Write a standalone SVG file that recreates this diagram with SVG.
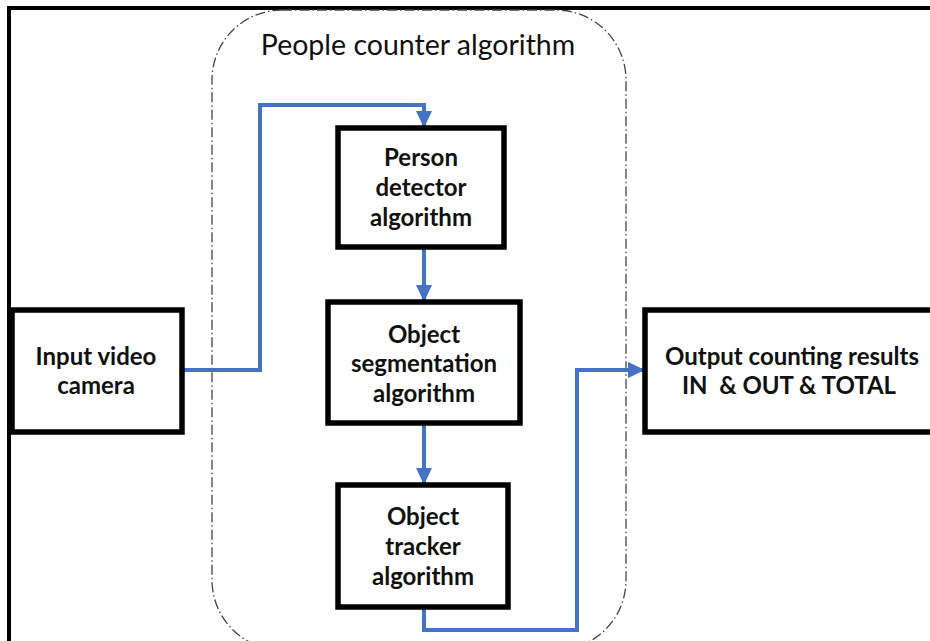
<svg xmlns="http://www.w3.org/2000/svg" width="930" height="641" viewBox="0 0 930 641">
<style>
.box{fill:#fff;stroke:#000;stroke-width:5.5}
.lbl{font-family:Lato,"Open Sans","Liberation Sans",sans-serif;font-weight:bold;font-size:24px;fill:#111;text-anchor:middle}
.conn{fill:none;stroke:#4472C4;stroke-width:4;marker-end:url(#ah)}
</style>
<defs>
<marker id="ah" markerUnits="userSpaceOnUse" markerWidth="18" markerHeight="18" viewBox="0 0 18 18" refX="16" refY="9" orient="auto">
<path d="M0,1 L17,9 L0,17 Z" fill="#4472C4"/>
</marker>
</defs>
<rect width="930" height="641" fill="#fff"/>
<path d="M9,641 V8 H930" fill="none" stroke="#000" stroke-width="4"/>
<g id="container">
<rect x="212" y="10" width="414" height="640" rx="70" ry="70" fill="none" stroke="#444" stroke-width="1.3" stroke-dasharray="10,3,1.5,3"/>
<text x="418" y="55" style="font-family:Lato,'Open Sans','Liberation Sans',sans-serif;font-size:28.5px;fill:#111;text-anchor:middle">People counter algorithm</text>
</g>
<g id="connectors">
<path class="conn" d="M182,370 H260 V105 H424 V127"/>
<path class="conn" d="M424,248 V301"/>
<path class="conn" d="M424,424 V484"/>
<path class="conn" d="M424,608 V630 H577 V370 H644"/>
</g>
<g id="input">
<rect class="box" x="12" y="310" width="170" height="122"/>
<text class="lbl" x="96" y="365">Input video</text>
<text class="lbl" x="96" y="394">camera</text>
</g>
<g id="person">
<rect class="box" x="338" y="128" width="166" height="119"/>
<text class="lbl" x="421" y="166">Person</text>
<text class="lbl" x="421" y="196">detector</text>
<text class="lbl" x="421" y="226">algorithm</text>
</g>
<g id="segmentation">
<rect class="box" x="328" y="302" width="192" height="121"/>
<text class="lbl" x="424" y="343">Object</text>
<text class="lbl" x="424" y="372">segmentation</text>
<text class="lbl" x="424" y="402">algorithm</text>
</g>
<g id="tracker">
<rect class="box" x="338" y="485" width="170" height="122"/>
<text class="lbl" x="423" y="525">Object</text>
<text class="lbl" x="423" y="555">tracker</text>
<text class="lbl" x="423" y="585">algorithm</text>
</g>
<g id="output">
<rect class="box" x="645" y="310" width="300" height="122"/>
<text class="lbl" x="792" y="365">Output counting results</text>
<text class="lbl" x="789" y="394" xml:space="preserve">IN  &amp; OUT &amp; TOTAL</text>
</g>
</svg>
